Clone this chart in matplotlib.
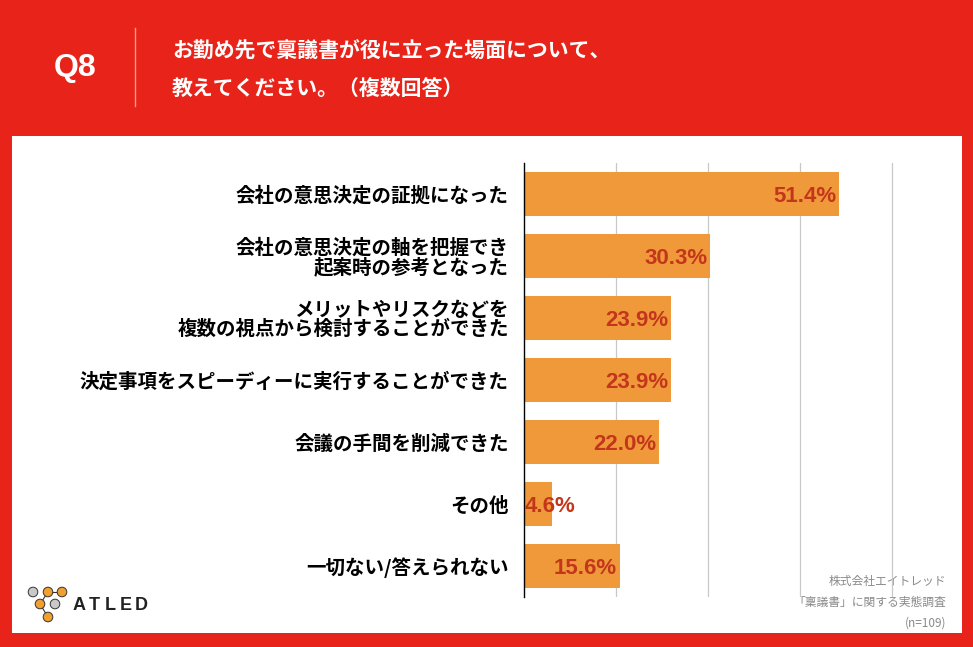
import matplotlib.pyplot as plt
from matplotlib.patches import Rectangle, Circle

plt.rcParams['font.family'] = ['Noto Sans CJK JP', 'DejaVu Sans']

# data
categories = [
    '会社の意思決定の証拠になった',
    '会社の意思決定の軸を把握でき\n起案時の参考となった',
    'メリットやリスクなどを\n複数の視点から検討することができた',
    '決定事項をスピーディーに実行することができた',
    '会議の手間を削減できた',
    'その他',
    '一切ない/答えられない',
]
values = [51.4, 30.3, 23.9, 23.9, 22.0, 4.6, 15.6]
grid_ticks = [15, 30, 45, 60]

title_lines = 'お勤め先で稟議書が役に立った場面について、\n教えてください。（複数回答）'
note_lines = ['株式会社エイトレッド', '「稟議書」に関する実態調査', '(n=109)']

RED = '#E8241A'
BAR = '#F0993B'
VAL = '#C3361B'

W, H = 973, 647
fig = plt.figure(figsize=(W / 100, H / 100), dpi=100)
fig.patch.set_facecolor(RED)


def fx(px):
    return px / W


def fy(py):
    return 1 - py / H


# background layer in pixel coordinates
bg = fig.add_axes([0, 0, 1, 1], zorder=0)
bg.set_xlim(0, W)
bg.set_ylim(H, 0)
bg.axis('off')
bg.add_patch(Rectangle((12, 136), 950, 497, facecolor='white', edgecolor='none'))

# header
bg.text(75, 68, 'Q8', color='white', fontsize=23, fontweight='bold',
        ha='center', va='center', family=['Liberation Sans', 'DejaVu Sans'])
bg.plot([135, 135], [28, 106], color='#F49A90', lw=1)
bg.text(172, 70, title_lines, color='white', fontsize=15, fontweight='bold',
        ha='left', va='center', linespacing=2.0)

# footnote
for i, line in enumerate(note_lines):
    bg.text(946, 581 + 21 * i, line, color='#8A8A8A', fontsize=8.5,
            ha='right', va='center')

# logo
pts = {'g1': (33, 592), 'o1': (48, 592), 'o2': (62, 592),
       'o3': (40, 604), 'g2': (55, 604), 'o4': (48, 617)}
for a, b in [('o1', 'o2'), ('o1', 'o3'), ('o3', 'o4')]:
    bg.plot([pts[a][0], pts[b][0]], [pts[a][1], pts[b][1]], color='#333333', lw=0.8)
for k, (px, py) in pts.items():
    fc = '#C9C9C9' if k.startswith('g') else '#F0A030'
    bg.add_patch(Circle((px, py), 4.8, facecolor=fc, edgecolor='#333333', lw=0.7, zorder=5))
for i, ch in enumerate('ATLED'):
    bg.text(79 + 15.5 * i, 606, ch, color='#222222', fontsize=13,
            fontweight='bold', ha='center', va='center',
            family=['Liberation Sans', 'DejaVu Sans'])

# chart
xmax = 60.3
ax = fig.add_axes([fx(524), fy(597), fx(524 + 368 * xmax / 60) - fx(524), fy(163) - fy(597)],
                  zorder=2)
ax.set_facecolor('none')
y = list(range(len(categories)))
ax.barh(y, values, height=0.71, color=BAR, zorder=2)
ax.set_xlim(0, xmax)
ax.set_ylim(len(categories) - 0.5, -0.5)
ax.set_xticks(grid_ticks)
ax.set_xticklabels([])
ax.tick_params(axis='x', length=0)
ax.grid(axis='x', color='#C8C8C8', lw=0.9, zorder=1)
ax.set_axisbelow(True)
ax.set_yticks(y)
ax.set_yticklabels(categories, fontsize=14, fontweight='bold', linespacing=1.0,
                   multialignment='right')
ax.tick_params(axis='y', length=0, pad=11)
for s in ['top', 'right', 'bottom']:
    ax.spines[s].set_visible(False)
ax.spines['left'].set_color('black')
ax.spines['left'].set_linewidth(1.0)
ax.spines['left'].set_zorder(3)

for yi, v in zip(y, values):
    label = f'{v:.1f}%'
    if v < 10:
        ax.text(0.15, yi, label, ha='left', va='center_baseline', color=VAL, fontsize=16,
                fontweight='bold', family=['Liberation Sans', 'DejaVu Sans'], zorder=4)
    else:
        ax.text(v - 0.4, yi, label, ha='right', va='center_baseline', color=VAL, fontsize=16,
                fontweight='bold', family=['Liberation Sans', 'DejaVu Sans'], zorder=4)

fig.savefig('out.png', dpi=100, facecolor=RED)
